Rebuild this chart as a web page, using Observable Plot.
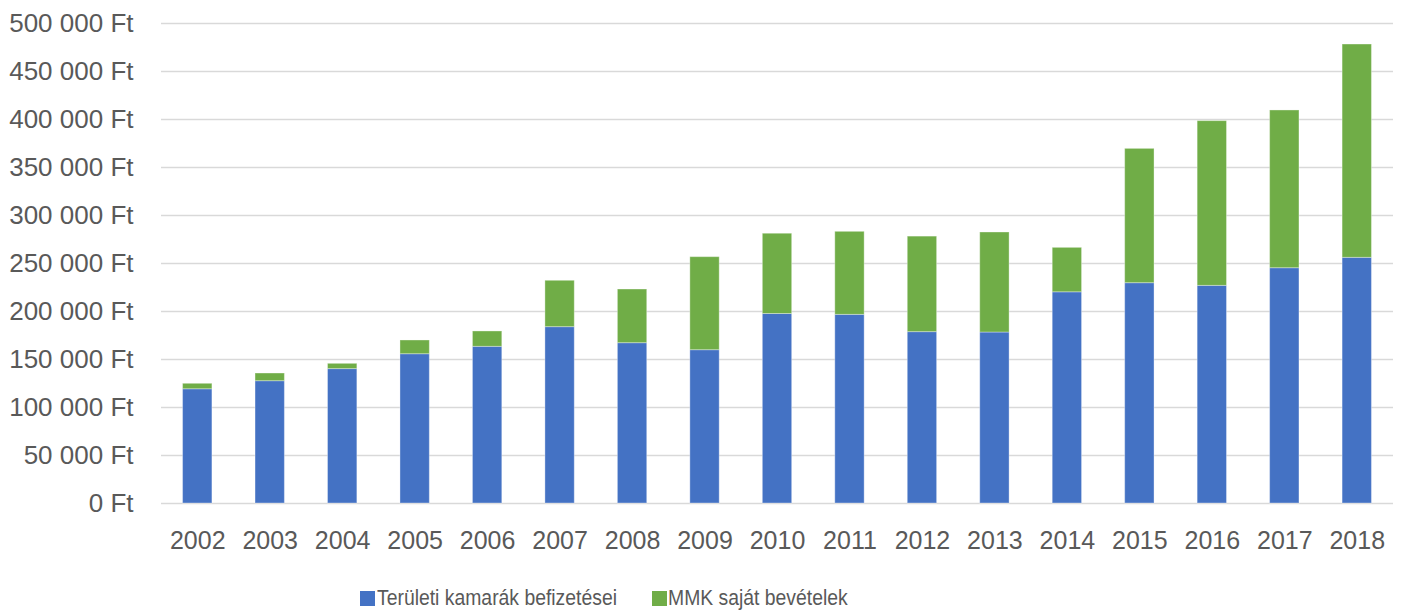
<!DOCTYPE html>
<html>
<head>
<meta charset="utf-8">
<script src="https://cdn.jsdelivr.net/npm/d3@7"></script>
<script src="https://cdn.jsdelivr.net/npm/@observablehq/plot@0.6"></script>
<style>
  html, body { margin: 0; padding: 0; background: #fff; }
  #wrap { position: relative; width: 1403px; height: 614px; font-family: "Liberation Sans", Arial, sans-serif; }
  #legend { position: absolute; left: 0; top: 0; width: 1403px; height: 614px; pointer-events: none; font-family: "Liberation Sans", Arial, sans-serif; font-size: 22px; color: #595959; white-space: nowrap; }
  .sw { position: absolute; top: 591px; width: 15px; height: 15px; }
  .lt { position: absolute; top: 585px; line-height: 26px; transform: scaleX(0.88); transform-origin: 0 50%; }
</style>
</head>
<body>
<div id="wrap">
  <div id="chart"></div>
  <div id="legend"></div>
</div>
<script>
const years = ["2002","2003","2004","2005","2006","2007","2008","2009","2010","2011","2012","2013","2014","2015","2016","2017","2018"];
const teruleti = [119000,127400,140000,155500,163200,183700,167000,159700,197400,196500,178500,178100,220000,229500,226700,245100,255900];
const mmk = [5700,8000,5500,14300,16000,48300,55900,96900,83600,86500,99500,104200,46300,139900,171600,164300,222200];
const seriesNames = ["Területi kamarák befizetései", "MMK saját bevételek"];
const seriesColors = ["#4472C4", "#70AD47"];
const yTicks = [0,50000,100000,150000,200000,250000,300000,350000,400000,450000,500000];

const rows = [];
years.forEach((y, i) => {
  rows.push({year: y, series: seriesNames[0], value: teruleti[i]});
  rows.push({year: y, series: seriesNames[1], value: mmk[i]});
});

const fmt = d => d3.format(",")(d).replace(/,/g, " ") + " Ft";

const chart = Plot.plot({
  width: 1403,
  height: 562,
  marginLeft: 161,
  marginRight: 10,
  marginTop: 23,
  marginBottom: 59,
  style: { fontFamily: "'Liberation Sans', Arial, sans-serif", fontSize: "25px", color: "#595959", background: "#fff" },
  x: { domain: years, paddingInner: 0.595, paddingOuter: 0.2975, round: false, label: null, tickSize: 0, tickPadding: 28 },
  y: { domain: [0, 500000], ticks: yTicks, tickFormat: fmt, label: null, tickSize: 0, tickPadding: 28 },
  color: { domain: seriesNames, range: seriesColors },
  marks: [
    Plot.gridY(yTicks, { stroke: "#D9D9D9", strokeOpacity: 1, strokeWidth: 1.5 }),
    Plot.barY(rows, { x: "year", y: "value", fill: "series", stroke: "#ffffff", strokeOpacity: 0.35, strokeWidth: 1 }),
    Plot.axisX({ tickSize: 0, tickPadding: 28, fill: "#595959", fontSize: 25 }),
    Plot.axisY({ ticks: yTicks, tickFormat: fmt, tickSize: 0, tickPadding: 28, fill: "#595959", fontSize: 26 })
  ]
});
document.getElementById("chart").appendChild(chart);

const legend = document.getElementById("legend");
const swatchX = [360, 652];
const textX = [377, 668];
seriesNames.forEach((name, i) => {
  const sw = document.createElement("span");
  sw.className = "sw";
  sw.style.left = swatchX[i] + "px";
  sw.style.background = seriesColors[i];
  const t = document.createElement("span");
  t.className = "lt";
  t.style.left = textX[i] + "px";
  t.textContent = name;
  legend.appendChild(sw);
  legend.appendChild(t);
});
</script>
</body>
</html>
